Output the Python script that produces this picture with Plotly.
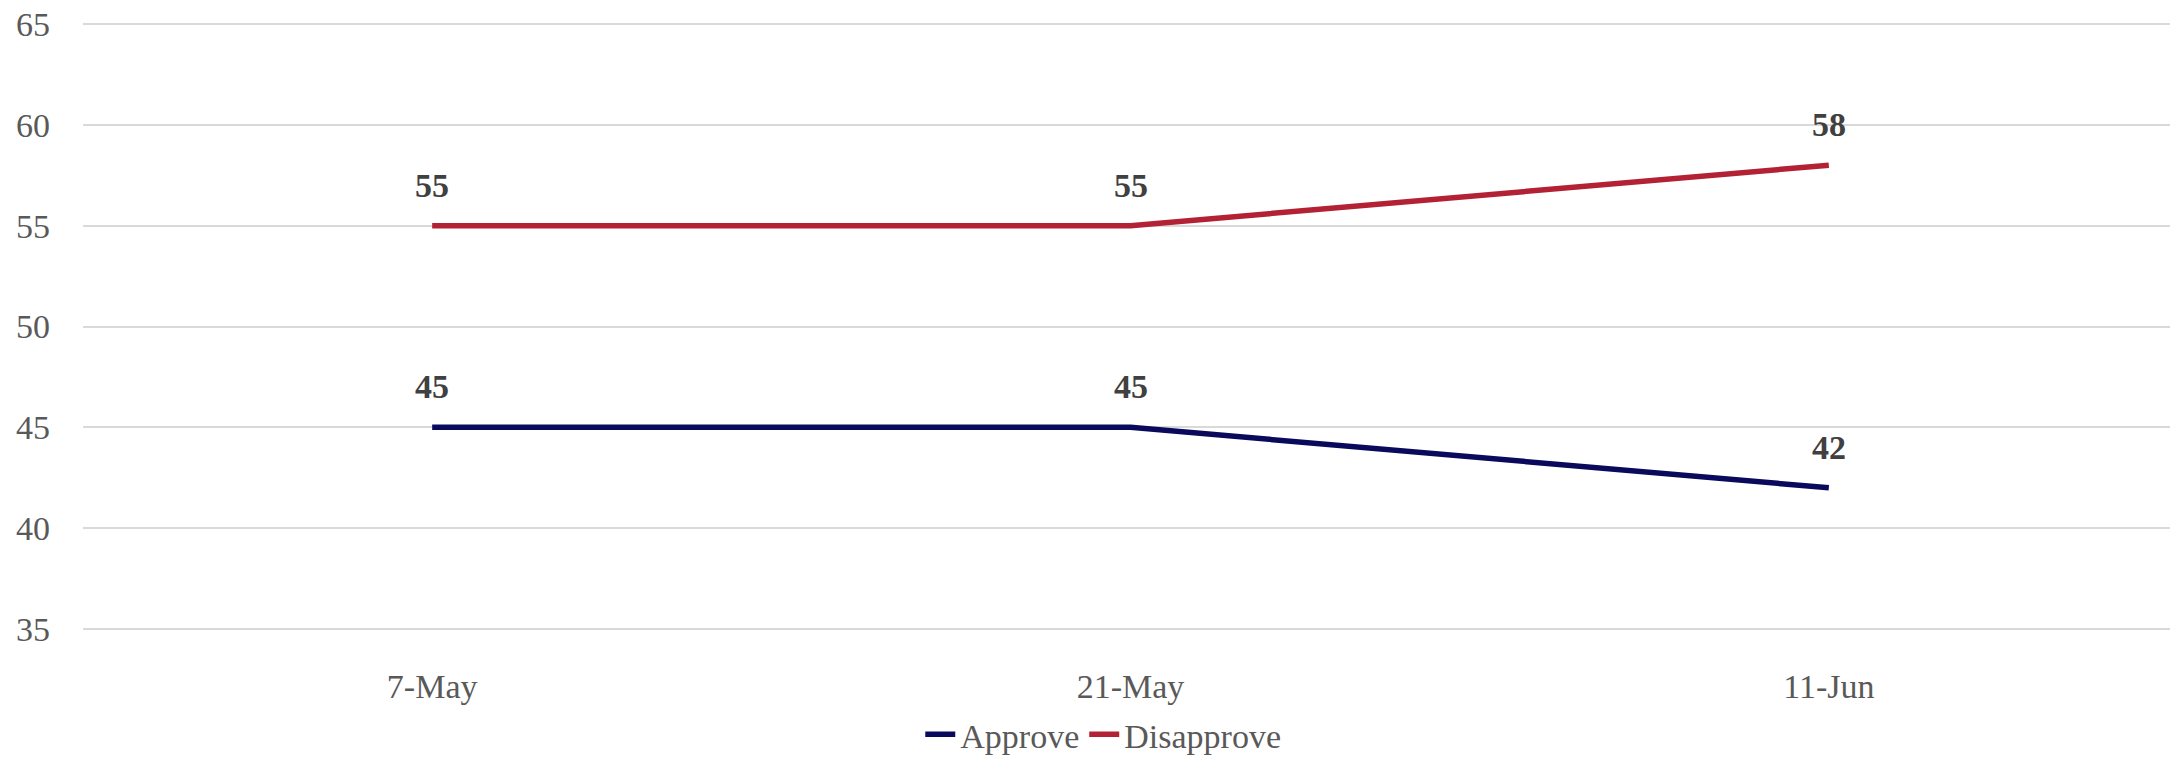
import plotly.graph_objects as go

categories = ["7-May", "21-May", "11-Jun"]
approve = [45, 45, 42]
disapprove = [55, 55, 58]
series_names = ["Approve", "Disapprove"]
y_ticks = [35, 40, 45, 50, 55, 60, 65]

colors = ["#0a0a5c", "#b22234"]
FONT = "Liberation Serif"

fig = go.Figure()
for name, vals, col in zip(series_names, [approve, disapprove], colors):
    fig.add_trace(go.Scatter(
        x=categories, y=vals, name=name, mode="lines",
        line=dict(color=col, width=5.5),
        hoverinfo="skip",
    ))

annotations = []
for vals in [approve, disapprove]:
    for c, v in zip(categories, vals):
        annotations.append(dict(
            x=c, y=v, xref="x", yref="y", text=f"<b>{v}</b>",
            showarrow=False, yanchor="bottom", yshift=20,
            font=dict(family=FONT, size=34, color="#404040"),
        ))

fig.update_layout(
    width=2170, height=750,
    margin=dict(l=75, r=0, t=12, b=125, autoexpand=False),
    paper_bgcolor="white", plot_bgcolor="white",
    font=dict(family=FONT, size=34, color="#595959"),
    annotations=annotations,
    showlegend=True,
    legend=dict(
        orientation="h", x=0.487, xanchor="center", y=-0.166, yanchor="middle",
        font=dict(family=FONT, size=34, color="#595959"),
        itemwidth=30, tracegroupgap=0,
    ),
    xaxis=dict(
        type="category", range=[-0.5, 2.5], showgrid=False, showline=False,
        zeroline=False,
        tickfont=dict(family=FONT, size=34, color="#595959"),
        ticklabelstandoff=30,
    ),
    yaxis=dict(
        range=[34.8, 65.2], tickvals=y_ticks, showgrid=True, gridcolor="#d9d9d9",
        gridwidth=2, zeroline=False, showline=False,
        tickfont=dict(family=FONT, size=34, color="#595959"),
        ticklabelstandoff=32, ticklabeloverflow="allow",
    ),
)

fig.write_html("out.html")
